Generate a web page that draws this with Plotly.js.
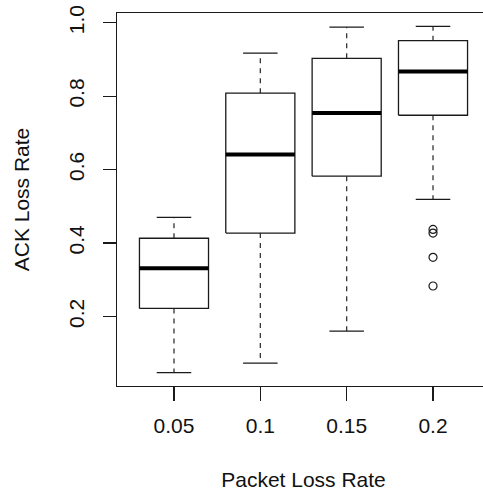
<!DOCTYPE html>
<html>
<head>
<meta charset="utf-8">
<script src="https://cdn.plot.ly/plotly-3.0.1.min.js"></script>
<style>
html,body{margin:0;padding:0;overflow:hidden;background:#fff;}
#chart{width:500px;height:492px;}
</style>
</head>
<body>
<div id="chart"></div>
<script>
const categories = ['0.05', '0.1', '0.15', '0.2'];
const lowerWhisker = [0.047, 0.073, 0.160, 0.519];
const q1 = [0.222, 0.427, 0.582, 0.748];
const median = [0.331, 0.641, 0.754, 0.867];
const q3 = [0.413, 0.808, 0.903, 0.951];
const upperWhisker = [0.470, 0.917, 0.988, 0.990];
const outlierCat = ['0.2', '0.2', '0.2', '0.2'];
const outlierY = [0.437, 0.427, 0.361, 0.283];
const yTicks = [0.2, 0.4, 0.6, 0.8, 1.0];
const yTickText = ['0.2', '0.4', '0.6', '0.8', '1.0'];

const HALF = 0.4, CAP = 0.2;
const LINE = '#1a1a1a';
const traces = [];
const pos = categories.map((c, i) => i + 1);

// whiskers (dashed)
const wx = [], wy = [];
pos.forEach((p, i) => {
  wx.push(p, p, null, p, p, null);
  wy.push(q3[i], upperWhisker[i], null, q1[i], lowerWhisker[i], null);
});
traces.push({x: wx, y: wy, mode: 'lines', line: {color: '#333', width: 1.3, dash: '5px,5px'}, hoverinfo: 'skip'});
// caps
const cx = [], cy = [];
pos.forEach((p, i) => {
  cx.push(p - CAP, p + CAP, null, p - CAP, p + CAP, null);
  cy.push(upperWhisker[i], upperWhisker[i], null, lowerWhisker[i], lowerWhisker[i], null);
});
traces.push({x: cx, y: cy, mode: 'lines', line: {color: LINE, width: 1.3}, hoverinfo: 'skip'});
// boxes
pos.forEach((p, i) => {
  traces.push({x: [p - HALF, p + HALF, p + HALF, p - HALF, p - HALF],
    y: [q1[i], q1[i], q3[i], q3[i], q1[i]], mode: 'lines', fill: 'toself', fillcolor: '#fff',
    line: {color: LINE, width: 1.3}, hoverinfo: 'skip'});
});
// medians
const mx = [], my = [];
pos.forEach((p, i) => { mx.push(p - HALF, p + HALF, null); my.push(median[i], median[i], null); });
traces.push({x: mx, y: my, mode: 'lines', line: {color: '#000', width: 4}, hoverinfo: 'skip'});
// outliers
traces.push({x: outlierCat.map(c => categories.indexOf(c) + 1), y: outlierY, mode: 'markers',
  marker: {symbol: 'circle-open', size: 8, color: LINE, line: {width: 1.2, color: LINE}}, hoverinfo: 'skip'});

const font = {family: 'Liberation Sans, Arial, sans-serif', size: 21, color: '#111'};
const layout = {
  width: 500, height: 492,
  margin: {l: 117, r: 10, t: 13, b: 106},
  showlegend: false,
  paper_bgcolor: '#fff', plot_bgcolor: '#fff',
  font: font,
  xaxis: {
    range: [0.34, 4.66], tickvals: pos, ticktext: categories,
    showgrid: false, zeroline: false, showline: true, mirror: true, linecolor: LINE, linewidth: 1.3,
    ticks: 'outside', ticklen: 14, tickcolor: LINE, tickwidth: 1.3, tickfont: font,
    ticklabelstandoff: 6,
    title: {text: 'Packet Loss Rate', font: font, standoff: 36}
  },
  yaxis: {
    range: [0.0106, 1.0265], tickvals: yTicks, ticktext: yTickText, tickangle: -90,
    showgrid: false, zeroline: false, showline: true, mirror: true, linecolor: LINE, linewidth: 1.3,
    ticks: 'outside', ticklen: 13, tickcolor: LINE, tickwidth: 1.3, tickfont: font,
    ticklabelstandoff: 10,
    title: {text: 'ACK Loss Rate', font: font, standoff: 30}
  }
};
Plotly.newPlot('chart', traces, layout, {displayModeBar: false, staticPlot: true});
</script>
</body>
</html>
